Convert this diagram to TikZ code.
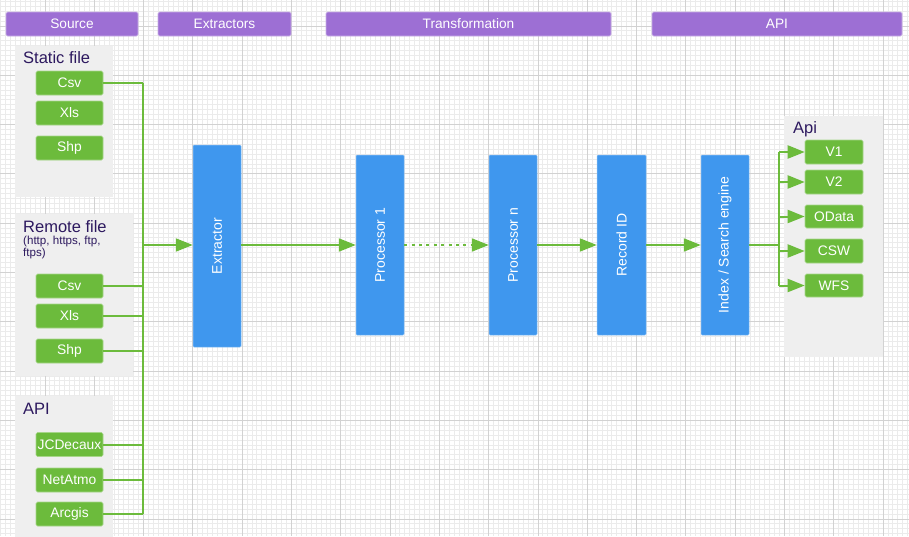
\documentclass[tikz,border=0pt]{standalone}
\usepackage{fontspec}
\setmainfont{Liberation Sans}
\usetikzlibrary{arrows.meta}
\definecolor{hdrpurple}{RGB}{157,111,212}
\definecolor{srcgreen}{RGB}{108,187,60}
\definecolor{stepblue}{RGB}{63,151,238}
\definecolor{panelgray}{RGB}{239,239,239}
\definecolor{titleink}{RGB}{45,25,95}
\definecolor{gridminor}{RGB}{235,235,235}
\definecolor{gridmajor}{RGB}{210,210,210}
\tikzset{
  hdr/.style={fill=hdrpurple, draw=hdrpurple!55!white, line width=0.6pt, rounded corners=1.5pt,
    text=white, font=\fontsize{13.7}{16}\selectfont, inner sep=0pt, minimum height=24pt},
  grouptitle/.style={text=titleink, font=\fontsize{16.5}{19}\selectfont, anchor=base west, inner sep=0pt},
  srcbox/.style={fill=srcgreen, draw=srcgreen!60!white, line width=0.6pt, rounded corners=1.5pt,
    text=white, font=\fontsize{13.8}{16}\selectfont, inner sep=0pt, minimum width=67pt, minimum height=24pt},
  apibox/.style={srcbox, minimum width=58pt},
  % stage boxes are rotated: their north side faces left, south side faces right
  stagebox/.style={fill=stepblue, draw=stepblue!60!white, line width=0.5pt, rounded corners=1pt,
    text=white, font=\fontsize{14}{16}\selectfont, inner sep=0pt, rotate=90, minimum height=48pt},
  flow/.style={draw=srcgreen, line width=2pt},
  flowarrow/.style={flow, -{Triangle[length=17pt, width=13pt]}},
}
\begin{document}
\begin{tikzpicture}[x=1pt, y=-1pt]
\useasboundingbox (0,0) rectangle (909,536);
\clip (0,0) rectangle (909,536);
\fill[white] (0,0) rectangle (909,536);

% background grid: fine lines, then every tenth line heavier
\foreach \i in {0,...,186} {
  \draw[gridminor, line width=1pt] ({-4.3+\i*4.93},0) -- ({-4.3+\i*4.93},536);
}
\foreach \j in {0,...,114} {
  \draw[gridminor, line width=1pt] (0,{-23.3+\j*4.93}) -- (909,{-23.3+\j*4.93});
}
\foreach \i in {0,...,19} {
  \draw[gridmajor, line width=1pt] ({-4.3+\i*49.3},0) -- ({-4.3+\i*49.3},536);
}
\foreach \j in {0,...,12} {
  \draw[gridmajor, line width=1pt] (0,{-23.3+\j*49.3}) -- (909,{-23.3+\j*49.3});
}

% column headers
\node[hdr, minimum width=132pt] (hsource) at (72,24) {Source};
\node[hdr, minimum width=133pt] (hextract) at (224.5,24) {Extractors};
\node[hdr, minimum width=285pt] (htransform) at (468.5,24) {Transformation};
\node[hdr, minimum width=250pt] (hapi) at (777,24) {API};

% group panels
\fill[panelgray] (15,46) rectangle (113,197);
\fill[panelgray] (15,214) rectangle (133,376);
\fill[panelgray] (15,396) rectangle (113,540);
\fill[panelgray] (784,116) rectangle (883,357);

\node[grouptitle] (tstatic) at (23,63) {Static file};
\node[grouptitle] (tremote) at (23,232) {Remote file};
\node[text=titleink, font=\fontsize{11.6}{12}\selectfont, anchor=north west, inner sep=0pt,
  align=left] (tproto) at (23,236) {(http, https, ftp,\\ftps)};
\node[grouptitle] (tapisrc) at (23,414) {API};
\node[grouptitle] (tapi) at (793,133) {Api};

\node[srcbox] (scsv) at (69.5,83) {Csv};
\node[srcbox] (sxls) at (69.5,113) {Xls};
\node[srcbox] (sshp) at (69.5,148) {Shp};
\node[srcbox] (rcsv) at (69.5,286) {Csv};
\node[srcbox] (rxls) at (69.5,316) {Xls};
\node[srcbox] (rshp) at (69.5,351) {Shp};
\node[srcbox] (jcd) at (69.5,444.5) {JCDecaux};
\node[srcbox] (netatmo) at (69.5,480) {NetAtmo};
\node[srcbox] (arcgis) at (69.5,514) {Arcgis};

% processing stages
\node[stagebox, minimum width=202pt] (extractor) at (217,246) {Extractor};
\node[stagebox, minimum width=180pt] (proc1) at (380,245) {Processor 1};
\node[stagebox, minimum width=180pt] (procn) at (513,245) {Processor n};
\node[stagebox, minimum width=180pt, minimum height=49pt] (recordid) at (621.5,245) {Record ID};
\node[stagebox, minimum width=180pt] (index) at (725,245) {Index / Search engine};

% API outputs
\node[apibox] (v1) at (834,152) {V1};
\node[apibox] (v2) at (834,182) {V2};
\node[apibox, minimum height=23pt] (odata) at (834,216.5) {OData};
\node[apibox] (csw) at (834,251) {CSW};
\node[apibox, minimum height=23pt] (wfs) at (834,285.5) {WFS};

% collector trunk on the source side
\coordinate (trunk) at (143,245);
\draw[flow] (trunk |- scsv) -- (trunk |- arcgis);
\foreach \s in {scsv,rcsv,rxls,rshp,jcd,netatmo,arcgis} {
  \draw[flow] (\s.east) -- (trunk |- \s);
}
\draw[flowarrow] (trunk) -- (extractor.north |- trunk);

% pipeline
\draw[flowarrow] (extractor.south |- proc1) -- (proc1.north);
\draw[flowarrow, dash pattern=on 3pt off 4.4pt] (proc1.south) -- (procn.north);
\draw[flowarrow] (procn.south) -- (recordid.north);
\draw[flowarrow] (recordid.south) -- (index.north);

% fan-out to the API endpoints
\coordinate (fan) at (779,245);
\draw[flow] (index.south) -- (fan);
\draw[flow] (fan |- v1) -- (fan |- wfs);
\foreach \a in {v1,v2,odata,csw,wfs} {
  \draw[flowarrow] (fan |- \a) -- (\a.west);
}
\end{tikzpicture}
\end{document}
